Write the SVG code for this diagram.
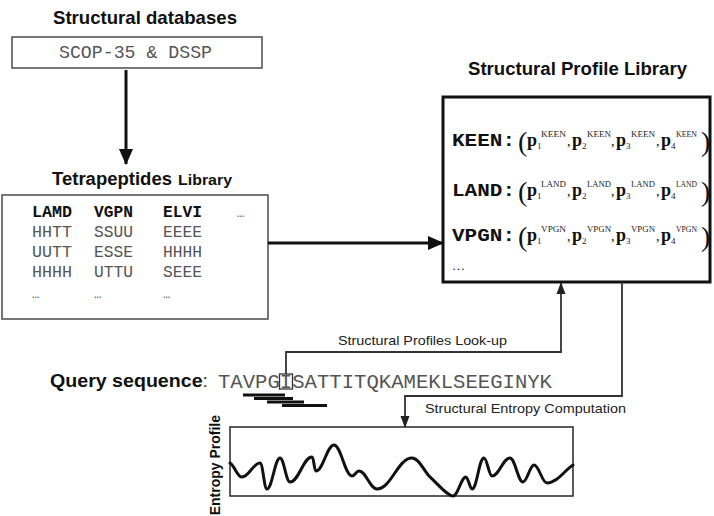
<svg xmlns="http://www.w3.org/2000/svg" width="714" height="516" viewBox="0 0 714 516">
<defs>
<style>
.title{font-family:"Liberation Sans",Arial,sans-serif;font-weight:bold;fill:#111}
.lbl{font-family:"Liberation Sans",Arial,sans-serif;font-size:13px;fill:#222}
.mono{font-family:"Liberation Mono","Courier New",monospace;fill:#555}
.monob{font-family:"Liberation Mono","Courier New",monospace;font-weight:bold;fill:#111}
.ser{font-family:"Liberation Serif","Times New Roman",serif;fill:#111}
.p{font-family:"Liberation Serif","Times New Roman",serif;font-weight:bold;font-size:18px;fill:#111}
.sm{font-family:"Liberation Serif","Times New Roman",serif;font-size:9px;fill:#222}
.box{fill:#fff;stroke:#555;stroke-width:1.6}
.thick{fill:none;stroke:#111;stroke-width:3}
.thin{fill:none;stroke:#333;stroke-width:1.8}
</style>
<marker id="ab" markerUnits="userSpaceOnUse" markerWidth="16" markerHeight="16" viewBox="0 0 16 16" refX="15" refY="8" orient="auto"><path d="M0,1 L16,8 L0,15 Z" fill="#111"/></marker>
<marker id="as" markerUnits="userSpaceOnUse" markerWidth="12" markerHeight="12" viewBox="0 0 12 12" refX="11" refY="6" orient="auto"><path d="M0,1.5 L12,6 L0,10.5 Z" fill="#222"/></marker>
</defs>
<rect width="714" height="516" fill="#fff"/>

<g id="structural-databases">
<text class="title" x="53" y="24" font-size="19" textLength="184" lengthAdjust="spacingAndGlyphs">Structural databases</text>
<rect class="box" x="12" y="37" width="250" height="31"/>
<text class="mono" x="59" y="58" font-size="18" textLength="153" lengthAdjust="spacingAndGlyphs">SCOP-35 &amp; DSSP</text>
</g>

<g id="tetrapeptides-library">
<text class="title" x="52" y="185" font-size="18" textLength="120" lengthAdjust="spacingAndGlyphs">Tetrapeptides</text>
<text class="title" x="178" y="185" font-size="14" textLength="54" lengthAdjust="spacingAndGlyphs">Library</text>
<rect class="box" x="2" y="195" width="266" height="124"/>
<g font-size="17">
<text class="monob" x="32" y="217" textLength="40" lengthAdjust="spacingAndGlyphs">LAMD</text>
<text class="monob" x="94" y="217" textLength="39" lengthAdjust="spacingAndGlyphs">VGPN</text>
<text class="monob" x="163" y="217" textLength="39" lengthAdjust="spacingAndGlyphs">ELVI</text>
<text class="mono" x="237" y="217" font-size="12">…</text>
<text class="mono" x="32" y="237" textLength="40" lengthAdjust="spacingAndGlyphs">HHTT</text>
<text class="mono" x="94" y="237" textLength="39" lengthAdjust="spacingAndGlyphs">SSUU</text>
<text class="mono" x="163" y="237" textLength="39" lengthAdjust="spacingAndGlyphs">EEEE</text>
<text class="mono" x="32" y="257" textLength="40" lengthAdjust="spacingAndGlyphs">UUTT</text>
<text class="mono" x="94" y="257" textLength="39" lengthAdjust="spacingAndGlyphs">ESSE</text>
<text class="mono" x="163" y="257" textLength="39" lengthAdjust="spacingAndGlyphs">HHHH</text>
<text class="mono" x="32" y="277" textLength="40" lengthAdjust="spacingAndGlyphs">HHHH</text>
<text class="mono" x="94" y="277" textLength="39" lengthAdjust="spacingAndGlyphs">UTTU</text>
<text class="mono" x="163" y="277" textLength="39" lengthAdjust="spacingAndGlyphs">SEEE</text>
<text class="mono" x="32" y="298" font-size="12">…</text>
<text class="mono" x="94" y="298" font-size="12">…</text>
<text class="mono" x="163" y="298" font-size="12">…</text>
</g>
</g>

<g id="structural-profile-library">
<text class="title" x="468" y="75" font-size="18" textLength="219" lengthAdjust="spacingAndGlyphs">Structural Profile Library</text>
<rect x="443" y="97" width="267" height="185" fill="#fff" stroke="#111" stroke-width="3"/>
<g id="row-keen" transform="translate(0,146)">
<text class="monob" x="452" y="0" font-size="19" textLength="63" lengthAdjust="spacingAndGlyphs">KEEN:</text>
<text class="ser" x="518" y="5" font-size="28">(</text>
<text class="p" x="527" y="0">p</text><text class="sm" x="537" y="3">1</text><text class="sm" x="541" y="-9" textLength="25" lengthAdjust="spacingAndGlyphs">KEEN</text><text class="ser" x="567" y="0" font-size="14">,</text>
<text class="p" x="572" y="0">p</text><text class="sm" x="582" y="3">2</text><text class="sm" x="587" y="-9" textLength="24" lengthAdjust="spacingAndGlyphs">KEEN</text><text class="ser" x="611" y="0" font-size="14">,</text>
<text class="p" x="616" y="0">p</text><text class="sm" x="626" y="3">3</text><text class="sm" x="631" y="-9" textLength="24" lengthAdjust="spacingAndGlyphs">KEEN</text><text class="ser" x="656" y="0" font-size="14">,</text>
<text class="p" x="661" y="0">p</text><text class="sm" x="671" y="3">4</text><text class="sm" x="676" y="-9" textLength="21" lengthAdjust="spacingAndGlyphs">KEEN</text>
<text class="ser" x="701" y="5" font-size="28">)</text>
</g>
<g id="row-land" transform="translate(0,196)">
<text class="monob" x="452" y="0" font-size="19" textLength="63" lengthAdjust="spacingAndGlyphs">LAND:</text>
<text class="ser" x="518" y="5" font-size="28">(</text>
<text class="p" x="527" y="0">p</text><text class="sm" x="537" y="3">1</text><text class="sm" x="541" y="-9" textLength="25" lengthAdjust="spacingAndGlyphs">LAND</text><text class="ser" x="567" y="0" font-size="14">,</text>
<text class="p" x="572" y="0">p</text><text class="sm" x="582" y="3">2</text><text class="sm" x="587" y="-9" textLength="24" lengthAdjust="spacingAndGlyphs">LAND</text><text class="ser" x="611" y="0" font-size="14">,</text>
<text class="p" x="616" y="0">p</text><text class="sm" x="626" y="3">3</text><text class="sm" x="631" y="-9" textLength="24" lengthAdjust="spacingAndGlyphs">LAND</text><text class="ser" x="656" y="0" font-size="14">,</text>
<text class="p" x="661" y="0">p</text><text class="sm" x="671" y="3">4</text><text class="sm" x="676" y="-9" textLength="21" lengthAdjust="spacingAndGlyphs">LAND</text>
<text class="ser" x="701" y="5" font-size="28">)</text>
</g>
<g id="row-vpgn" transform="translate(0,241)">
<text class="monob" x="452" y="0" font-size="19" textLength="63" lengthAdjust="spacingAndGlyphs">VPGN:</text>
<text class="ser" x="518" y="5" font-size="28">(</text>
<text class="p" x="527" y="0">p</text><text class="sm" x="537" y="3">1</text><text class="sm" x="541" y="-9" textLength="25" lengthAdjust="spacingAndGlyphs">VPGN</text><text class="ser" x="567" y="0" font-size="14">,</text>
<text class="p" x="572" y="0">p</text><text class="sm" x="582" y="3">2</text><text class="sm" x="587" y="-9" textLength="24" lengthAdjust="spacingAndGlyphs">VPGN</text><text class="ser" x="611" y="0" font-size="14">,</text>
<text class="p" x="616" y="0">p</text><text class="sm" x="626" y="3">3</text><text class="sm" x="631" y="-9" textLength="24" lengthAdjust="spacingAndGlyphs">VPGN</text><text class="ser" x="656" y="0" font-size="14">,</text>
<text class="p" x="661" y="0">p</text><text class="sm" x="671" y="3">4</text><text class="sm" x="676" y="-9" textLength="21" lengthAdjust="spacingAndGlyphs">VPGN</text>
<text class="ser" x="701" y="5" font-size="28">)</text>
</g>
<text class="ser" x="452" y="270" font-size="13">…</text>
</g>

<g id="query-sequence">
<text class="title" x="50" y="387" font-size="19" textLength="158" lengthAdjust="spacingAndGlyphs">Query sequence<tspan font-weight="normal" fill="#333">:</tspan></text>
<text class="mono" x="218" y="388" font-size="20" textLength="334" lengthAdjust="spacingAndGlyphs" fill="#444">TAVPGISATTITQKAMEKLSEEGINYK</text>
<rect x="279.5" y="374" width="13" height="15" fill="none" stroke="#333" stroke-width="1.3"/>
<g stroke="#111" stroke-width="3">
<line x1="243" y1="395" x2="285" y2="395"/>
<line x1="254" y1="398.5" x2="293" y2="398.5"/>
<line x1="267" y1="402" x2="304" y2="402"/>
<line x1="282" y1="405.5" x2="327" y2="405.5"/>
</g>
</g>

<g id="entropy-profile">
<rect x="230" y="427" width="343" height="69" fill="#fff" stroke="#333" stroke-width="1.6"/>
<path fill="none" stroke="#111" stroke-width="3" stroke-linejoin="round" stroke-linecap="round" d="M230,463 C235,466 237,477 242,477 C249,477 253,463 260,463 C263,463 264,489 267,489 C272,489 275,458 280,458 C284,458 286,482 290,482 C299,482 303,457 312,457 C314,457 314,471 316,471 C323,471 327,445 334,445 C341,445 345,476 352,476 C355,476 356,471 359,471 C366,471 370,489 377,489 C391,489 398,458 412,458 C419,458 424,471 430,477 C437,483 447,496 453,496 C458,496 461,477 466,477 C468,477 470,489 472,489 C477,489 479,458 484,458 C487,458 489,476 492,476 C499,476 503,458 510,458 C515,458 518,482 523,482 C527,482 530,465 534,465 C539,465 542,483 547,483 C557,483 565,470 573,465"/>
<text class="title" transform="translate(220,415) rotate(-90)" text-anchor="end" font-size="14">Entropy Profile</text>
</g>

<g id="connectors">
<line class="thick" x1="126" y1="70" x2="126" y2="164" marker-end="url(#ab)"/>
<line class="thick" x1="268" y1="243" x2="443" y2="243" marker-end="url(#ab)"/>
<path class="thin" d="M286,374 V352 H561 V283" marker-end="url(#as)"/>
<path class="thin" d="M622,282 V396 H405 V427" marker-end="url(#as)"/>
<text class="lbl" x="338" y="345" textLength="169" lengthAdjust="spacingAndGlyphs">Structural Profiles Look-up</text>
<text class="lbl" x="425" y="413" textLength="201" lengthAdjust="spacingAndGlyphs">Structural Entropy Computation</text>
</g>
</svg>
